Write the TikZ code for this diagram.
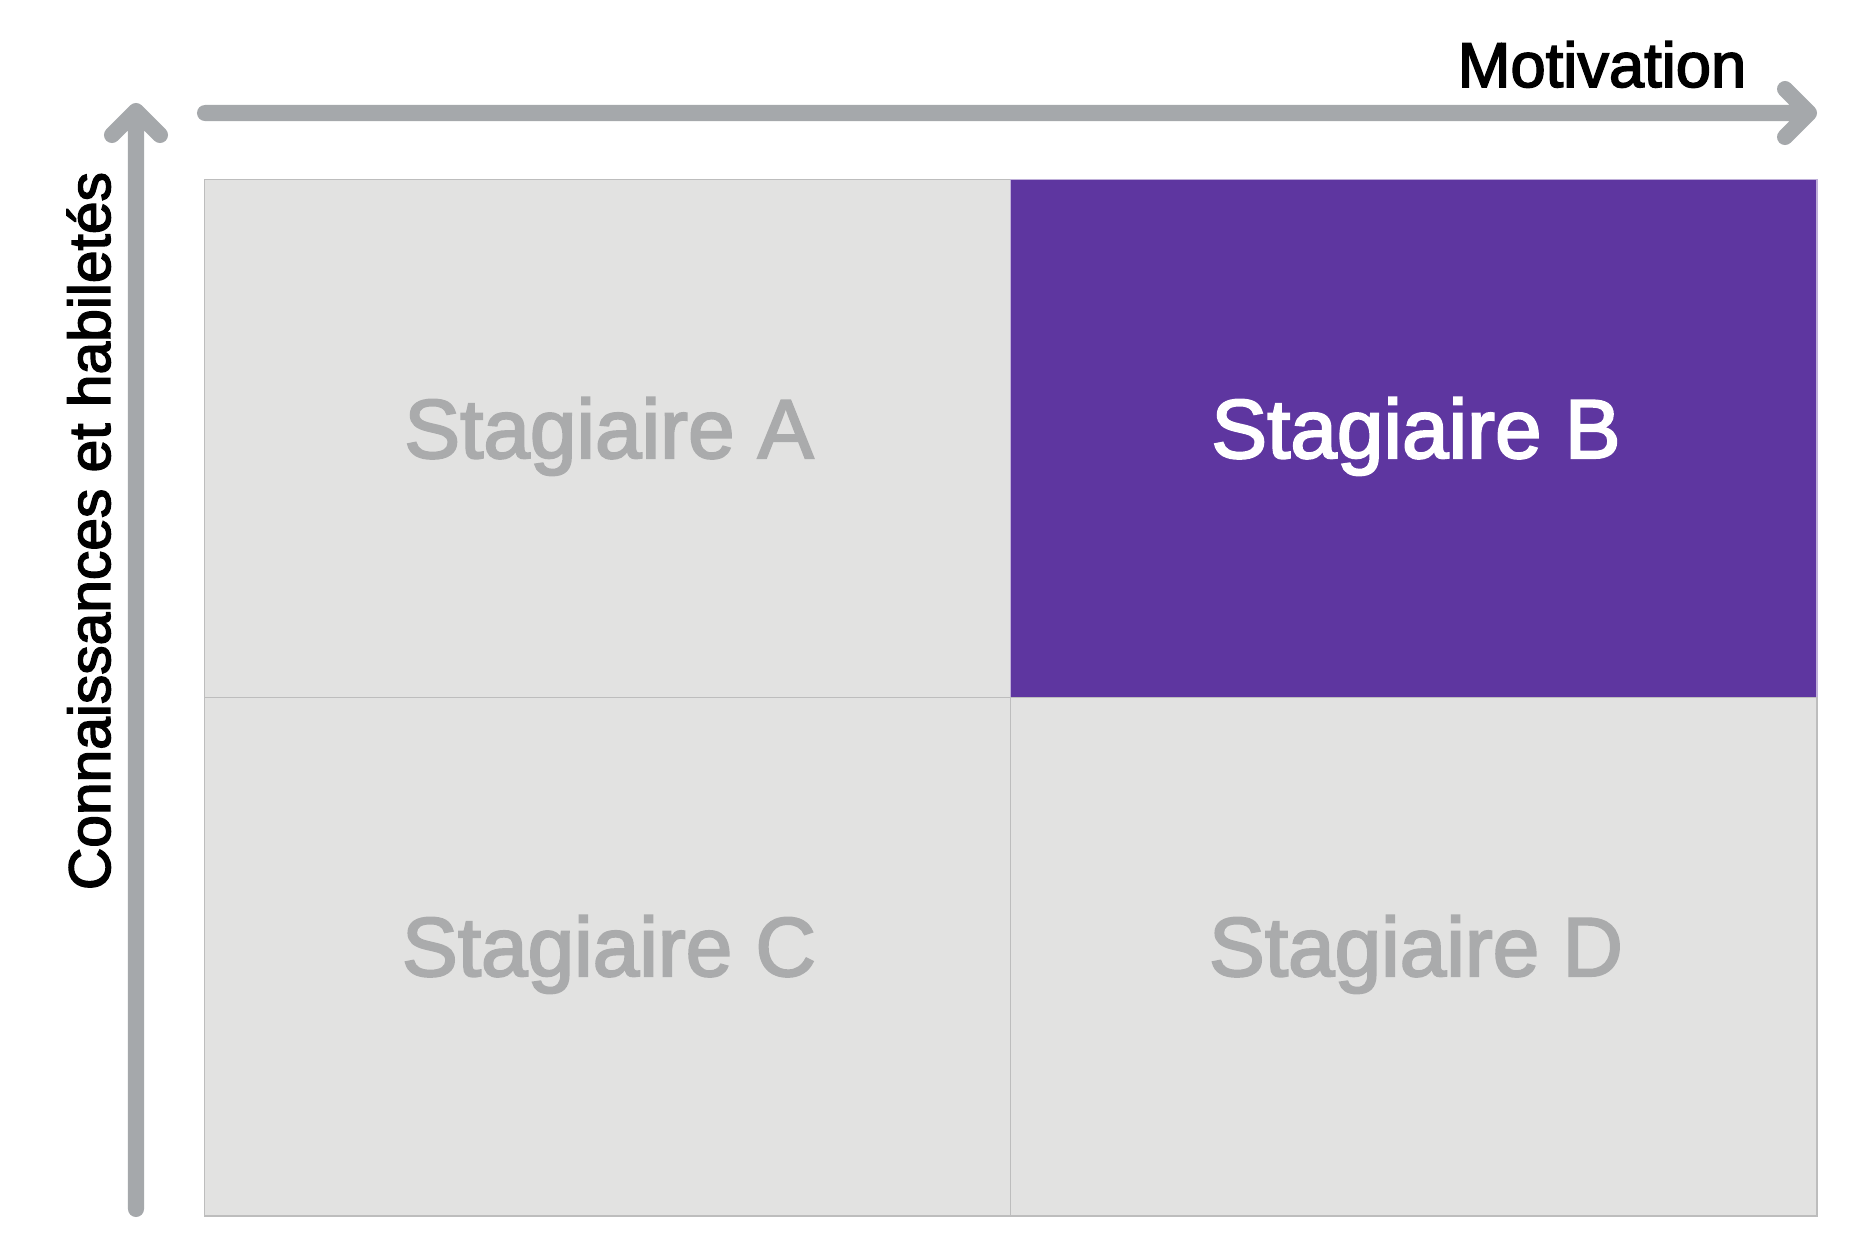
\documentclass[tikz,border=0pt]{standalone}
\usepackage{fontspec}
\newfontfamily\medfont{Liberation Sans}[FakeBold=2.5]
\definecolor{cellgrey}{HTML}{E2E2E1}
\definecolor{cellline}{HTML}{BDBDBD}
\definecolor{purplecell}{HTML}{5E36A0}
\definecolor{axisgrey}{HTML}{A5A8AB}
\definecolor{labelgrey}{HTML}{AAABAC}
\tikzset{
  cell/.style={rectangle, anchor=north west, inner sep=0pt, minimum width=8.06cm, minimum height=5.18cm, line width=0.4pt},
  greycell/.style={cell, fill=cellgrey, draw=cellline},
  hicell/.style={cell, fill=purplecell, draw=purplecell!40!white},
  celltext/.style={anchor=base, inner sep=0pt, font=\medfont\fontsize{23.8}{29}\selectfont},
  axislabel/.style={anchor=base, inner sep=0pt, text=black},
  axis/.style={draw=axisgrey, line width=0.16cm, line cap=round, line join=round}
}
\begin{document}
\begin{tikzpicture}[x=0.01cm,y=-0.01cm]
\useasboundingbox[fill=white] (0,0) rectangle (1875,1251);
% cells
\node[greycell] (A) at (204,179) {};
\node[hicell] (B) at (1010,179) {};
\node[greycell] (C) at (204,697) {};
\node[greycell] (D) at (1010,697) {};
% texts
\node[celltext, text=labelgrey] (tA) at (609,458) {Stagiaire A};
\node[celltext, text=white] (tB) at (1416,458) {Stagiaire B};
\node[celltext, text=labelgrey] (tC) at (609,976) {Stagiaire C};
\node[celltext, text=labelgrey] (tD) at (1416,976) {Stagiaire D};
% axes
\coordinate (hstart) at (205,113);
\coordinate (htip) at (1809,113);
\coordinate (hup) at (1785,89);
\coordinate (hdn) at (1785,137);
\draw[axis] (hstart) -- (htip) (hup) -- (htip) -- (hdn);
\coordinate (vstart) at (136,1209);
\coordinate (vtip) at (136,111);
\coordinate (vl) at (112,135);
\coordinate (vr) at (160,135);
\draw[axis] (vstart) -- (vtip) (vl) -- (vtip) -- (vr);
% axis labels
\node[axislabel, font=\medfont\fontsize{18}{22}\selectfont] (mot) at (1602,87) {Motivation};
\node[axislabel, rotate=90, font=\medfont\fontsize{16.7}{21}\selectfont] (conn) at (110,531) {Connaissances et habiletés};
\end{tikzpicture}
\end{document}
